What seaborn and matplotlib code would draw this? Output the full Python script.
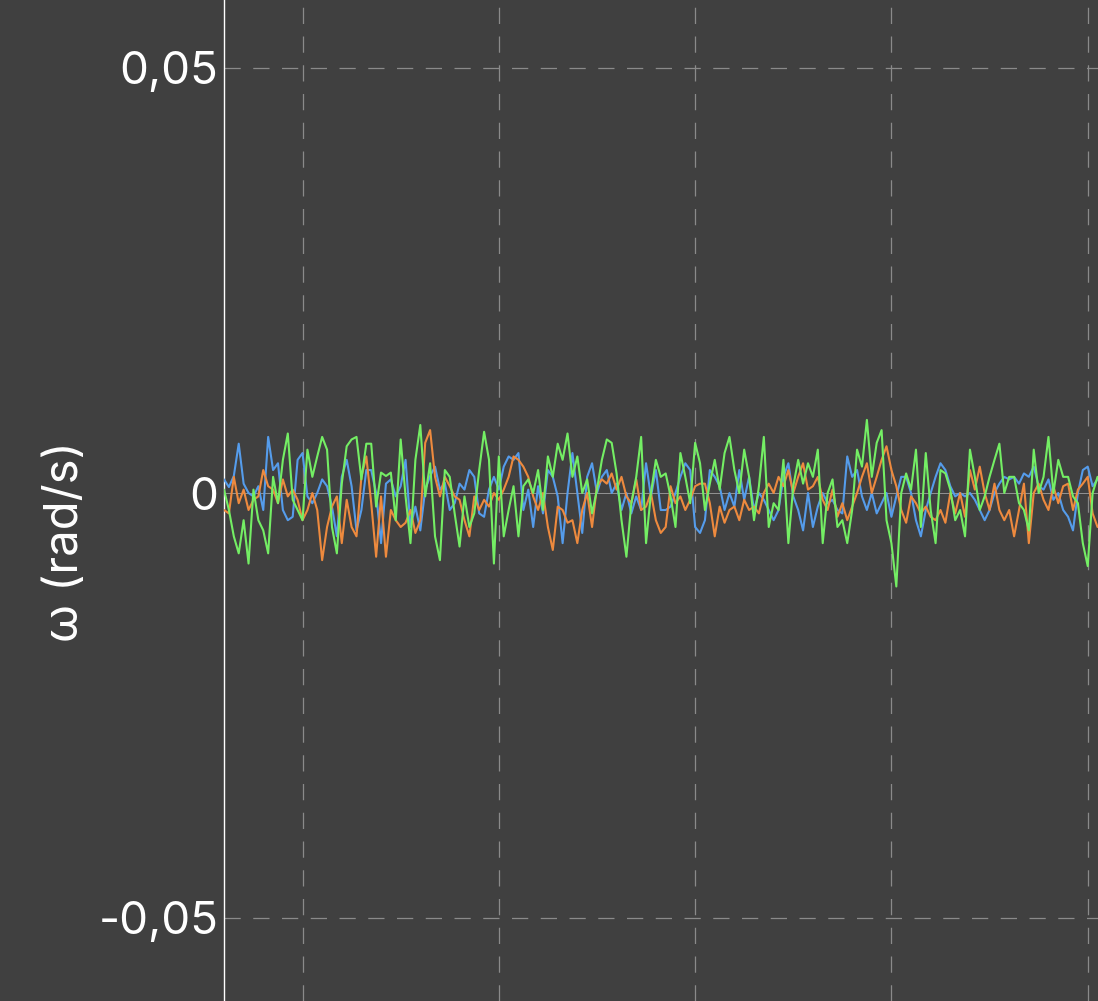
import numpy as np
import pandas as pd
import matplotlib
matplotlib.use("Agg")
import matplotlib.pyplot as plt
import seaborn as sns
from matplotlib.ticker import FuncFormatter

# --- DATOS (omega en unidades de 1e-3 rad/s) ---
omega_azul = [
    1.6, 0.7, 2.0, 5.8, 1.1, 0.0, -0.4, 0.8, -2.0, 6.6, 2.7, 3.5, -2.0, -3.2, -2.8,
    3.9, 4.7, -0.4, -1.2, 0.0, 1.6, 0.8, -1.6, -5.1, 1.9, 3.9, 0.8, -4.4, -2.0, 2.7,
    2.7, 0.0, -5.9, 1.1, 1.6, -0.4, 0.8, 3.9, -4.0, -1.6, -4.4, 0.4, 2.0, 3.1, 0.4,
    1.2, -2.0, -1.2, 1.1, 0.4, 2.7, 1.9, -2.4, -2.8, 0.4, 1.9, 0.4, 3.1, 4.3, 3.9,
    4.7, -2.0, 0.4, -4.0, 0.8, -2.4, 2.7, 1.9, -0.4, -5.9, 0.0, 4.7, 0.0, -4.7, 1.9,
    3.5, 0.0, 1.9, 2.7, 0.0, 1.1, -2.0, 0.0, -2.4, -0.4, -2.0, 3.5, -0.4, 2.7, -2.0,
    -2.0, -1.6, 0.0, 1.9, 3.5, 2.7, -4.0, -4.7, -3.2, 2.7, 1.9, 0.8, -2.0, 0.0, -1.6,
    2.7, -0.8, 1.9, -2.0, 0.0, -0.8, -2.0, -3.2, -2.0, 1.9, 3.5, -0.4, -2.0, -4.4, 0.0,
    -4.0, -1.6, 0.0, -1.2, -0.8, -2.0, -2.4, 4.3, 1.9, 2.7, -0.4, -2.0, 0.0, -2.4, -1.2,
    0.0, -2.8, -0.4, 1.9, 1.9, 0.0, -3.2, -5.1, -2.0, 0.0, 1.9, 3.5, 2.7, 0.8, -0.4,
    0.0, -0.4, 0.0, -0.8, -2.0, -3.2, -2.0, 0.0, 1.1, 1.9, 1.6, 1.9, 1.1, 2.3, 1.9,
    3.1, 0.8, 0.4, 1.6, -0.8, 0.0, -2.0, -2.8, -4.4, 0.0, 2.7, 3.1, 0.8, 1.6,
]
omega_naranja = [
    -2.0, -2.4, 1.9, -1.2, 0.4, -2.0, -0.8, -0.4, 2.7, 0.8, 0.4, -1.2, 1.6, -0.4, 0.4,
    -0.8, -3.2, -2.0, 0.0, -2.0, -7.9, -4.0, -1.6, -0.4, -5.9, -0.8, -4.0, -5.1, 1.9, 4.3,
    -1.2, -7.5, -0.4, -7.5, -2.0, -3.2, -4.0, -3.5, -2.0, -4.7, -3.2, 5.9, 7.4, 1.9, -0.4,
    1.9, 0.8, -0.4, -0.8, -3.2, -5.1, -0.4, -2.0, -0.8, -1.6, 0.0, -0.8, 0.4, 1.9, 4.3,
    3.9, 3.1, 1.9, -0.4, -2.0, 0.0, -4.0, -6.7, -1.6, -2.0, -3.5, -3.2, -5.9, -2.0, 0.0,
    -4.0, 0.8, 1.6, 1.1, 2.3, 0.4, 1.9, -0.4, -1.2, 1.6, -2.0, -1.6, 0.0, -3.2, -4.7,
    -4.0, 0.8, -1.2, -0.4, -2.0, -0.8, 0.8, 1.1, 1.1, -1.2, -5.1, -1.6, -3.5, -2.0, -1.6,
    -3.2, -0.8, -2.0, -1.6, -2.4, 0.0, 1.1, 0.0, 1.9, 0.8, 2.7, 0.0, 1.9, 3.5, 0.4,
    0.8, 1.9, -0.8, -2.0, 0.4, -2.8, -1.2, -3.2, -1.6, 0.0, 1.9, 3.5, 0.0, 1.9, 3.9,
    5.5, 2.7, 0.8, -2.0, -3.5, -0.4, -1.2, -2.4, -1.6, -2.8, -3.2, -2.0, -3.5, 0.0, -2.4,
    0.0, -2.8, 2.7, 0.4, 3.1, 0.0, -2.0, 1.1, -2.0, -3.2, -2.0, -5.1, -2.0, 1.1, -5.9,
    0.0, 1.1, -0.8, -2.0, 0.8, -1.2, 0.8, 1.1, -2.0, 0.4, 1.1, 1.9, -2.4, -4.0,
]
omega_verde = [
    0.4, -2.0, -5.1, -7.1, -3.2, -8.3, 0.4, -3.2, -4.4, -7.1, 1.9, -1.2, 3.9, 7.0, -0.8,
    -2.0, -3.2, 5.1, 1.9, 4.3, 6.6, 5.1, -4.0, -7.1, 1.1, 5.5, 6.3, 6.6, 1.6, 5.8,
    5.8, -1.6, 2.4, 2.0, 2.4, -3.2, 6.3, -0.4, -5.9, 3.9, 8.0, -0.4, 3.5, -5.1, -7.9,
    2.7, 1.9, -2.4, -6.3, -0.4, -4.0, -2.4, 2.7, 7.2, 3.9, -8.3, 4.3, -5.1, -2.0, 0.8,
    -5.1, 0.8, 1.6, 0.0, 2.7, -2.0, 4.3, 1.9, 5.8, 3.9, 7.0, 1.9, 4.3, 0.0, 1.6,
    -2.4, 0.4, 3.9, 6.3, 5.9, 2.3, -3.2, -7.5, -1.2, 1.9, 6.6, -5.9, 0.0, 3.9, 1.9,
    2.3, -0.4, -4.0, 4.7, 1.9, -1.2, 5.9, 3.5, -2.0, 1.1, 3.9, 0.4, 4.7, 6.6, 2.7,
    0.0, 5.1, 1.9, -3.2, 0.8, 6.6, -4.0, -1.2, -2.0, 3.9, -5.9, 0.8, 3.9, 1.1, 3.5,
    1.9, 5.1, -5.9, 0.0, 1.6, -4.0, -3.2, -5.9, -2.0, 5.1, 3.1, 8.6, 1.9, 5.9, 7.4,
    -3.2, -5.9, -11.0, 0.0, 2.3, 0.4, 5.1, -4.0, 4.7, -2.0, -5.9, 2.7, 2.3, 0.4, -3.2,
    -2.0, -5.1, 5.1, 1.9, -2.0, -0.4, 1.9, 3.9, 5.8, 0.0, 1.9, 1.9, -1.2, -2.0, -4.4,
    5.1, 0.0, 1.9, 6.6, 0.0, 3.9, 1.9, 1.9, -0.4, -1.2, -5.9, -8.6, 0.0, 1.9,
]
t_inicio = 0.6      # s
dt = 0.025          # s
y_ticks = [-0.05, 0, 0.05]
x_grid = [1, 2, 3, 4, 5]
etiqueta_y = 'ω (rad/s)'

colores = {'azul': '#559CEB', 'naranja': '#EE8A3E', 'verde': '#74EE64'}

# --- DATAFRAME LARGO ---
n = len(omega_azul)
t = t_inicio + dt * np.arange(n)
df = pd.concat([
    pd.DataFrame({'t': t, 'omega': np.array(v) / 1000, 'serie': k})
    for k, v in [('azul', omega_azul), ('naranja', omega_naranja), ('verde', omega_verde)]
], ignore_index=True)

# --- ESTILO ---
fondo = '#404040'
sns.set_style("dark", {'axes.facecolor': fondo, 'figure.facecolor': fondo})
plt.rcParams['font.family'] = ['Inter', 'DejaVu Sans']

W, H = 1098, 1001
fig = plt.figure(figsize=(W / 100, H / 100), dpi=100)
ax = fig.add_axes([224 / W, 0, 1 - 224 / W, 1])

sns.lineplot(data=df, x='t', y='omega', hue='serie', palette=colores,
             hue_order=['azul', 'naranja', 'verde'], linewidth=1.5,
             legend=False, ax=ax, estimator=None, sort=False, zorder=3)

ax.set_xlim(t_inicio, t_inicio + (W - 224) / 196.3)
ax.set_ylim(-0.05 - 83 / 425 * 0.05, 0.05 + 68 / 425 * 0.05)

# rejilla discontinua
dash = (0, (13, 10))
for xv in x_grid:
    ax.axvline(xv, color='#8a8a8a', lw=0.9, ls=dash, zorder=1)
for yv in [-0.05, 0.05]:
    ax.axhline(yv, color='#8a8a8a', lw=0.9, ls=dash, zorder=1)
ax.axhline(0, color='#a8a8a8', lw=0.7, zorder=2, alpha=0.8)

ax.set_yticks(y_ticks)
ax.yaxis.set_major_formatter(FuncFormatter(
    lambda v, p: '0' if abs(v) < 1e-12 else f'{v:.2f}'.replace('.', ',')))
ax.set_xticks(x_grid)
ax.tick_params(axis='y', length=0, pad=4, labelsize=33, labelcolor='white')
ax.tick_params(axis='x', length=0, labelbottom=False)
ax.set_xlabel('')
ax.set_ylabel('')

for s in ['top', 'right', 'bottom']:
    ax.spines[s].set_visible(False)
ax.spines['left'].set_color('white')
ax.spines['left'].set_linewidth(1.0)

fig.text(66 / W, 1 - 542 / H, etiqueta_y, rotation=90, color='white',
         fontsize=34, ha='center', va='center')

fig.savefig('out.png', dpi=100, facecolor=fondo)
